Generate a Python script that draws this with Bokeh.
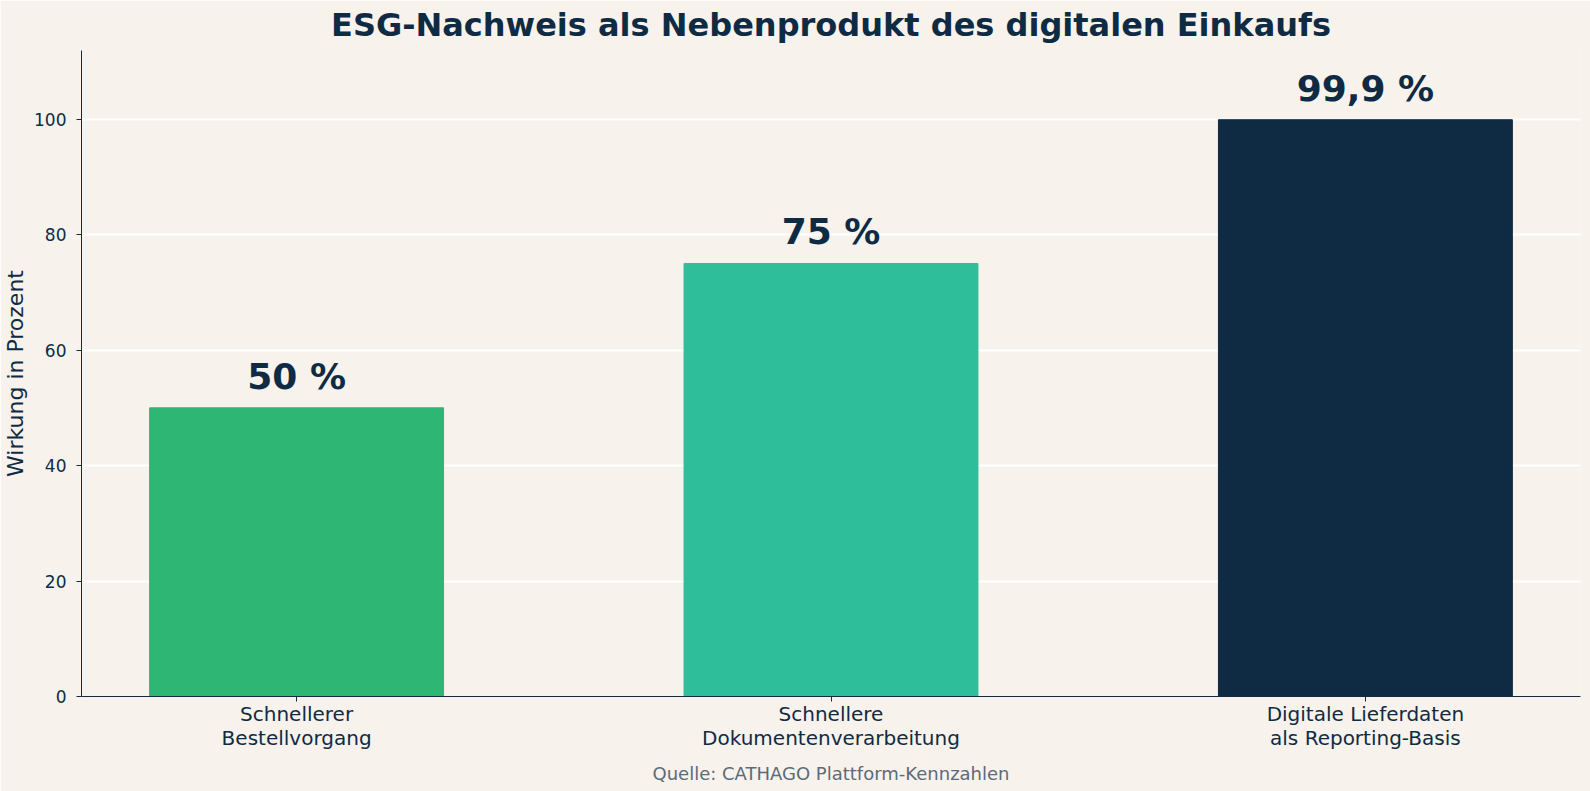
from bokeh.plotting import figure
from bokeh.models import ColumnDataSource, Title, FixedTicker, Range1d, LinearAxis
from bokeh.core.properties import value
from bokeh.embed import file_html
from bokeh.resources import INLINE

title_text = "ESG-Nachweis als Nebenprodukt des digitalen Einkaufs"
source_text = "Quelle: CATHAGO Plattform-Kennzahlen"
categories = ["Schnellerer\nBestellvorgang", "Schnellere\nDokumentenverarbeitung", "Digitale Lieferdaten\nals Reporting-Basis"]
values = [50, 75, 99.9]
value_labels = ["50 %", "75 %", "99,9 %"]
colors = ["#2DB674", "#2EBF9A", "#0F2B44"]
y_ticks = [0, 20, 40, 60, 80, 100]

BG = "#F7F2EC"
NAVY = "#0F2B44"
FONT = "DejaVu Sans"

xs = list(range(len(categories)))
ymax = max(values) * 1.12
src = ColumnDataSource(dict(x=xs, top=values, label=value_labels, color=colors))

p = figure(width=1590, height=791, output_backend="svg", toolbar_location=None,
           x_range=Range1d(-0.4025, len(categories) - 1 + 0.4025),
           y_range=Range1d(0, ymax),
           background_fill_color=BG, border_fill_color=BG,
           min_border_left=80, min_border_right=10, min_border_top=0, min_border_bottom=10)
p.outline_line_color = None

p.vbar(x="x", top="top", width=0.55, color="color", source=src)
p.text(x="x", y="top", text="label", source=src, text_align="center", text_baseline="bottom",
       y_offset=-11, text_font=value(FONT), text_font_style="bold", text_font_size="36px",
       text_color=NAVY)

# main axes (configured before any extra axis is added)
xa = p.xaxis[0]
xa.ticker = FixedTicker(ticks=xs)
xa.major_label_overrides = {i: c for i, c in enumerate(categories)}
xa.major_label_text_font = FONT
xa.major_label_text_font_size = "20px"
xa.major_label_text_line_height = 1.0
xa.major_label_text_color = NAVY
xa.major_label_standoff = 0
xa.axis_line_color = NAVY
xa.major_tick_line_color = NAVY
xa.major_tick_out = 5
xa.major_tick_in = 0
xa.minor_tick_line_color = None

ya = p.yaxis[0]
ya.ticker = FixedTicker(ticks=y_ticks)
ya.axis_label = "Wirkung in Prozent"
ya.axis_label_text_font = FONT
ya.axis_label_text_font_size = "22px"
ya.axis_label_text_font_style = "normal"
ya.axis_label_text_color = NAVY
ya.axis_label_standoff = 3
ya.major_label_text_font = FONT
ya.major_label_text_font_size = "17px"
ya.major_label_text_color = NAVY
ya.major_label_standoff = 10
ya.axis_line_color = NAVY
ya.major_tick_line_color = NAVY
ya.major_tick_out = 5
ya.major_tick_in = 0
ya.minor_tick_line_color = None

# title (outermost)
p.title.text = title_text
p.title.align = "center"
p.title.vertical_align = "top"
p.title.text_font = FONT
p.title.text_font_size = "32px"
p.title.text_font_style = "bold"
p.title.text_color = NAVY
p.title.standoff = 10
p.title.offset = -3

# empty spacer axis between title and frame (no ticks; line in background colour)
spacer = LinearAxis(ticker=FixedTicker(ticks=[]), axis_line_color=BG,
                    major_tick_line_color=NAVY, minor_tick_line_color=NAVY,
                    major_tick_out=14, major_tick_in=0, minor_tick_out=0, minor_tick_in=0,
                    major_label_standoff=0)
p.add_layout(spacer, "above")

# source note
p.add_layout(Title(text=source_text, align="center", text_font=FONT,
                   text_font_size="18px", text_font_style="normal", text_color="#5B6B7A",
                   standoff=16, offset=-3), "below")

p.xgrid.grid_line_color = None
p.ygrid.grid_line_color = "white"
p.ygrid.grid_line_width = 2

open("out.html", "w").write(file_html(p, INLINE))
